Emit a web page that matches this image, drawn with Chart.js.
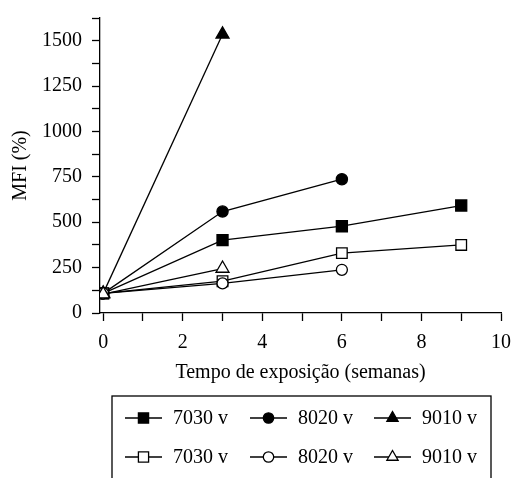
<!DOCTYPE html>
<html>
<head>
<meta charset="utf-8">
<script src="https://cdn.jsdelivr.net/npm/chart.js@4/dist/chart.umd.min.js"></script>
<style>
  html, body { margin: 0; padding: 0; background: #fff; }
  #wrap { width: 514px; height: 478px; }
</style>
</head>
<body>
<div id="wrap"><canvas id="mfi-chart" width="514" height="478"></canvas></div>
<script>
// weeks of exposure
const weeks = [0, 3, 6, 9];
const labels = ['7030 v', '8020 v', '9010 v', '7030 v', '8020 v', '9010 v'];

// MFI (%)
const mfi7030Filled = [108, 401, 478, 592];
const mfi8020Filled = [108, 559, 737];
const mfi9010Filled = [108, 1535];
const mfi7030Open = [108, 175, 330, 375];
const mfi8020Open = [108, 163, 238];
const mfi9010Open = [104, 245];

const xTicks = [0, 2, 4, 6, 8, 10];
const xMinorTicks = [0, 1, 2, 3, 4, 5, 6, 7, 8, 9, 10];
const yTicks = [0, 250, 500, 750, 1000, 1250, 1500];

const FONT = '"Liberation Serif", "Times New Roman", serif';

function pts(values) {
  return values.map((v, i) => ({ x: weeks[i], y: v }));
}

function series(label, values, style, filled, radius, order) {
  return {
    label: label,
    data: pts(values),
    borderColor: '#000',
    borderWidth: 1.3,
    pointStyle: style,
    pointRadius: radius,
    pointBorderWidth: 1.3,
    pointBorderColor: '#000',
    pointBackgroundColor: filled ? '#000' : '#fff',
    order: order,
  };
}

function drawMarker(ctx, style, filled, r, x, y) {
  ctx.save();
  ctx.beginPath();
  if (style === 'rect') {
    let s = Math.SQRT1_2 * r;
    ctx.rect(x - s, y - s, 2 * s, 2 * s);
  } else if (style === 'circle') {
    ctx.arc(x, y, r, 0, Math.PI * 2);
  } else {
    for (let k = 0; k < 3; k++) {
      let a = -Math.PI / 2 + k * 2 * Math.PI / 3;
      let px = x + r * Math.cos(a), py = y + r * Math.sin(a);
      if (k === 0) ctx.moveTo(px, py); else ctx.lineTo(px, py);
    }
    ctx.closePath();
  }
  ctx.fillStyle = filled ? '#000' : '#fff';
  ctx.fill();
  ctx.lineWidth = 1.3;
  ctx.strokeStyle = '#000';
  ctx.stroke();
  ctx.restore();
}

// boxed legend below the axis title: line-marker-line then text
const boxLegend = {
  id: 'boxLegend',
  afterDraw(chart) {
    const ctx = chart.ctx;
    const area = chart.chartArea;
    const top = area.bottom + 83;
    const left = area.left + 12;
    const right = area.right - 10;
    ctx.save();
    ctx.strokeStyle = '#000';
    ctx.lineWidth = 1.3;
    ctx.strokeRect(left, top, right - left, 120);
    const colX = [left + 13, left + 138, left + 262];
    const rowY = [top + 22, top + 61];
    chart.data.datasets.forEach((ds, i) => {
      const col = i % 3, row = Math.floor(i / 3);
      const x0 = colX[col], y = rowY[row];
      ctx.beginPath();
      ctx.moveTo(x0, y);
      ctx.lineTo(x0 + 37, y);
      ctx.lineWidth = 1.3;
      ctx.strokeStyle = '#000';
      ctx.stroke();
      drawMarker(ctx, ds.pointStyle, ds.pointBackgroundColor === '#000',
        ds.pointStyle === 'circle' ? 5.2 : (ds.pointStyle === 'rect' ? 7.2 : 6.5),
        x0 + 18.5, y);
      ctx.fillStyle = '#000';
      ctx.font = '20px ' + FONT;
      ctx.textBaseline = 'middle';
      ctx.textAlign = 'left';
      ctx.fillText(ds.label, x0 + 48, y + 1);
    });
    ctx.restore();
  },
};

const ctx = document.getElementById('mfi-chart').getContext('2d');
const mfiChart = new Chart(ctx, {
  type: 'line',
  data: {
    datasets: [
      series(labels[0], mfi7030Filled, 'rect', true, 7.8, 6),
      series(labels[1], mfi8020Filled, 'circle', true, 5.6, 5),
      series(labels[2], mfi9010Filled, 'triangle', true, 7.5, 4),
      series(labels[3], mfi7030Open, 'rect', false, 7.5, 3),
      series(labels[4], mfi8020Open, 'circle', false, 5.5, 2),
      series(labels[5], mfi9010Open, 'triangle', false, 7.5, 1),
    ],
  },
  options: {
    responsive: false,
    animation: false,
    devicePixelRatio: 1,
    layout: { padding: { top: 18, right: 13, bottom: 90, left: 0 } },
    plugins: {
      legend: { display: false },
      tooltip: { enabled: false },
    },
    scales: {
      x: {
        type: 'linear',
        min: -0.08,
        max: 10,
        afterFit: (s) => {
          s.height = 75;
          s.paddingLeft = 0;
          s.paddingRight = 0;
        },
        afterBuildTicks: (s) => {
          s.ticks = xMinorTicks.map((v) => ({ value: v }));
        },
        ticks: {
          autoSkip: false,
          maxRotation: 0,
          color: '#000',
          padding: 10,
          font: { family: FONT, size: 20 },
          callback: (v) => (xTicks.includes(v) ? String(v) : ''),
        },
        grid: {
          drawOnChartArea: false,
          tickLength: 8,
          tickColor: '#000',
          tickWidth: 1.3,
        },
        border: { color: '#000', width: 1.3 },
        title: {
          display: true,
          text: 'Tempo de exposição (semanas)',
          color: '#000',
          font: { family: FONT, size: 20 },
          padding: { top: 4, bottom: 3 },
        },
      },
      y: {
        min: 0,
        max: 1625,
        afterFit: (s) => {
          s.width = 100;
          s.paddingTop = 0;
          s.paddingBottom = 0;
        },
        ticks: {
          stepSize: 125,
          autoSkip: false,
          color: '#000',
          padding: 10,
          font: { family: FONT, size: 20 },
          callback: (v) => (yTicks.includes(v) ? String(v) : ''),
        },
        grid: {
          drawOnChartArea: false,
          tickLength: 8,
          tickColor: '#000',
          tickWidth: 1.3,
        },
        border: { color: '#000', width: 1.3 },
        title: {
          display: true,
          text: 'MFI (%)',
          color: '#000',
          font: { family: FONT, size: 20 },
          padding: { top: 9, bottom: 0 },
        },
      },
    },
  },
  plugins: [boxLegend],
});
</script>
</body>
</html>
